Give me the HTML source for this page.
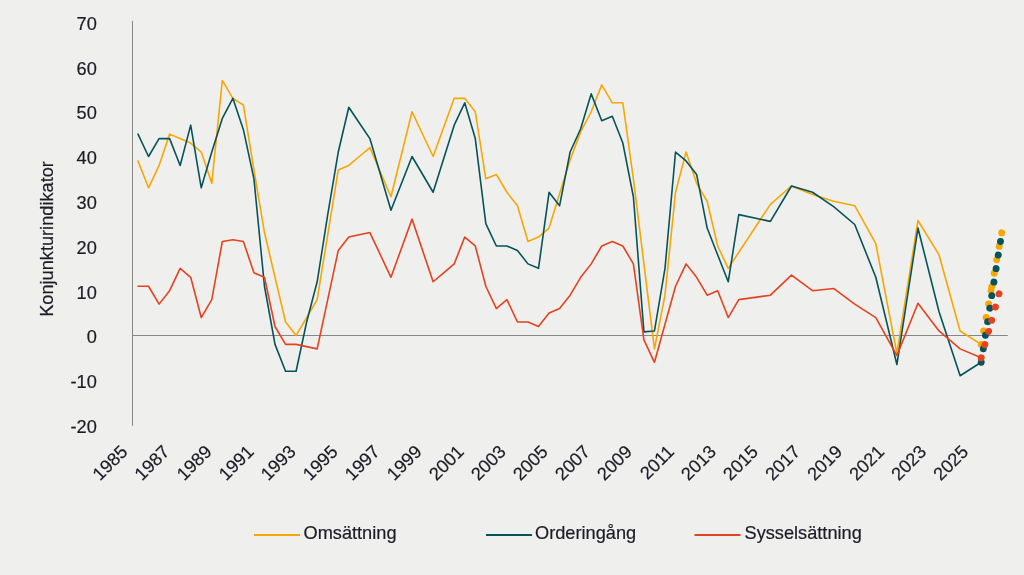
<!DOCTYPE html>
<html lang="sv"><head><meta charset="utf-8"><title>Konjunkturindikator</title>
<style>html,body{margin:0;padding:0;background:#EFEFED;}body{width:1024px;height:575px;overflow:hidden;}svg{display:block;}</style>
</head><body>
<svg width="1024" height="575" viewBox="0 0 1024 575">
<rect width="1024" height="575" fill="#EFEFED"/>
<line x1="132.5" y1="20.8" x2="132.5" y2="425.8" stroke="#868686" stroke-width="1"/>
<line x1="132" y1="335.5" x2="1007.8" y2="335.5" stroke="#868686" stroke-width="1"/>
<g font-family="'Liberation Sans', Arial, sans-serif" font-size="18.2" fill="#1C1C26" stroke="#1C1C26" stroke-width="0.2">
<text x="96.8" y="30.3" text-anchor="end">70</text>
<text x="96.8" y="74.7" text-anchor="end">60</text>
<text x="96.8" y="119.3" text-anchor="end">50</text>
<text x="96.8" y="164.0" text-anchor="end">40</text>
<text x="96.8" y="208.9" text-anchor="end">30</text>
<text x="96.8" y="253.6" text-anchor="end">20</text>
<text x="96.8" y="298.8" text-anchor="end">10</text>
<text x="96.8" y="342.9" text-anchor="end">0</text>
<text x="96.8" y="387.6" text-anchor="end">-10</text>
<text x="96.8" y="432.6" text-anchor="end">-20</text>
<text transform="translate(128.7,452.9) rotate(-45)" text-anchor="end">1985</text>
<text transform="translate(170.7,452.9) rotate(-45)" text-anchor="end">1987</text>
<text transform="translate(212.8,452.9) rotate(-45)" text-anchor="end">1989</text>
<text transform="translate(254.8,452.9) rotate(-45)" text-anchor="end">1991</text>
<text transform="translate(296.8,452.9) rotate(-45)" text-anchor="end">1993</text>
<text transform="translate(338.9,452.9) rotate(-45)" text-anchor="end">1995</text>
<text transform="translate(380.9,452.9) rotate(-45)" text-anchor="end">1997</text>
<text transform="translate(422.9,452.9) rotate(-45)" text-anchor="end">1999</text>
<text transform="translate(465.0,452.9) rotate(-45)" text-anchor="end">2001</text>
<text transform="translate(507.0,452.9) rotate(-45)" text-anchor="end">2003</text>
<text transform="translate(549.0,452.9) rotate(-45)" text-anchor="end">2005</text>
<text transform="translate(591.1,452.9) rotate(-45)" text-anchor="end">2007</text>
<text transform="translate(633.1,452.9) rotate(-45)" text-anchor="end">2009</text>
<text transform="translate(675.2,452.9) rotate(-45)" text-anchor="end">2011</text>
<text transform="translate(717.2,452.9) rotate(-45)" text-anchor="end">2013</text>
<text transform="translate(759.2,452.9) rotate(-45)" text-anchor="end">2015</text>
<text transform="translate(801.3,452.9) rotate(-45)" text-anchor="end">2017</text>
<text transform="translate(843.3,452.9) rotate(-45)" text-anchor="end">2019</text>
<text transform="translate(885.3,452.9) rotate(-45)" text-anchor="end">2021</text>
<text transform="translate(927.4,452.9) rotate(-45)" text-anchor="end">2023</text>
<text transform="translate(969.4,452.9) rotate(-45)" text-anchor="end">2025</text>
<text transform="translate(53.2,239) rotate(-90)" text-anchor="middle">Konjunkturindikator</text>
<text x="303.5" y="539.4">Omsättning</text>
<text x="535" y="539.4">Orderingång</text>
<text x="744.5" y="539.4">Sysselsättning</text>
</g>
<line x1="254.0" y1="535" x2="300.0" y2="535" stroke="#F7A704" stroke-width="2"/>
<line x1="486.0" y1="535" x2="532.0" y2="535" stroke="#06535A" stroke-width="2"/>
<line x1="694.5" y1="535" x2="740.5" y2="535" stroke="#E3431F" stroke-width="2"/>
<polyline fill="none" stroke="#F7A704" stroke-width="1.6" stroke-linejoin="round" stroke-linecap="round" points="138.00,160.96 148.54,187.81 159.08,165.44 169.62,134.12 180.16,138.59 190.70,143.07 201.24,152.02 211.78,183.33 222.32,80.43 232.86,98.33 243.40,105.04 253.94,169.91 264.48,232.55 275.02,277.29 285.56,322.03 296.10,335.45 306.64,317.55 317.18,299.66 327.72,234.78 338.26,169.91 348.80,165.44 359.34,156.49 369.88,147.54 390.96,196.76 412.04,111.75 433.12,156.49 454.20,98.33 464.74,98.33 475.28,111.75 485.82,178.86 496.36,174.39 506.90,192.28 517.44,205.70 527.98,241.50 538.52,237.02 549.06,228.07 559.60,193.62 570.14,160.07 580.68,131.88 591.22,111.75 601.76,84.91 612.30,102.80 622.84,102.80 633.38,178.86 643.92,263.87 654.46,348.87 665.00,295.18 675.54,192.28 686.08,152.02 696.62,183.33 707.16,201.23 717.70,245.97 728.24,268.34 770.40,204.36 791.48,186.02 812.56,194.52 833.64,201.23 854.72,205.70 875.80,243.73 896.88,353.35 917.96,220.47 939.04,254.92 960.12,330.98 981.20,344.40"/>
<polyline fill="none" stroke="#06535A" stroke-width="1.6" stroke-linejoin="round" stroke-linecap="round" points="138.00,134.12 148.54,156.49 159.08,138.59 169.62,138.59 180.16,165.44 190.70,125.17 201.24,187.81 211.78,152.02 222.32,118.46 232.86,98.33 243.40,129.65 253.94,178.86 264.48,286.24 275.02,344.40 285.56,371.24 296.10,371.24 306.64,322.03 317.18,281.76 327.72,214.65 338.26,152.02 348.80,107.28 359.34,122.93 369.88,138.59 390.96,210.18 412.04,156.49 433.12,192.28 454.20,125.17 464.74,102.80 475.28,138.59 485.82,223.60 496.36,245.97 506.90,245.97 517.44,250.44 527.98,263.87 538.52,268.34 549.06,192.28 559.60,205.70 570.14,152.02 580.68,128.75 591.22,93.85 601.76,120.70 612.30,116.22 622.84,143.07 633.38,196.76 643.92,331.87 654.46,330.98 665.00,268.34 675.54,152.02 686.08,160.96 696.62,174.39 707.16,228.07 717.70,254.92 728.24,281.76 738.78,214.65 770.40,221.36 791.48,186.02 812.56,192.28 833.64,206.60 854.72,224.49 875.80,277.29 896.88,364.53 917.96,228.07 939.04,311.74 960.12,375.72 981.20,362.29"/>
<polyline fill="none" stroke="#E3431F" stroke-width="1.6" stroke-linejoin="round" stroke-linecap="round" points="138.00,286.24 148.54,286.24 159.08,304.13 169.62,290.71 180.16,268.34 190.70,277.29 201.24,317.55 211.78,299.66 222.32,241.50 232.86,239.71 243.40,241.50 253.94,272.81 264.48,277.29 275.02,326.50 285.56,344.40 296.10,344.40 306.64,346.63 317.18,348.87 327.72,299.66 338.26,250.44 348.80,237.02 359.34,234.78 369.88,232.55 390.96,277.29 412.04,219.13 433.12,281.76 443.66,272.81 454.20,263.87 464.74,237.02 475.28,245.97 485.82,286.24 496.36,308.61 506.90,299.66 517.44,322.03 527.98,322.03 538.52,326.50 549.06,313.08 559.60,308.61 570.14,295.18 580.68,277.29 591.22,263.87 601.76,245.97 612.30,241.50 622.84,245.97 633.38,263.87 643.92,339.92 654.46,362.29 665.00,324.26 675.54,286.24 686.08,263.87 696.62,277.29 707.16,295.18 717.70,290.71 728.24,317.55 738.78,299.66 770.40,295.18 791.48,275.05 812.56,290.71 833.64,288.47 854.72,304.13 875.80,317.55 896.88,355.58 917.96,303.24 939.04,330.98 960.12,348.87 981.20,357.82"/>
<polyline fill="none" stroke="#F7A704" stroke-width="6.9" stroke-linecap="round" stroke-dasharray="0.01 13.69" points="981.20,344.40 991.74,286.68"/>
<polyline fill="none" stroke="#F7A704" stroke-width="6.9" stroke-linecap="round" stroke-dasharray="0.01 13.69" points="991.74,286.68 1002.28,229.86"/>
<polyline fill="none" stroke="#06535A" stroke-width="6.9" stroke-linecap="round" stroke-dasharray="0.01 13.69" points="981.20,362.29 991.74,295.63"/>
<polyline fill="none" stroke="#06535A" stroke-width="6.9" stroke-linecap="round" stroke-dasharray="0.01 13.69" points="991.74,295.63 1002.28,230.31"/>
<polyline fill="none" stroke="#E3431F" stroke-width="6.9" stroke-linecap="round" stroke-dasharray="0.01 13.69" points="981.20,357.82 991.74,320.24"/>
<polyline fill="none" stroke="#E3431F" stroke-width="6.9" stroke-linecap="round" stroke-dasharray="0.01 13.69" points="991.74,320.24 1002.28,282.21"/>
</svg>
</body></html>
